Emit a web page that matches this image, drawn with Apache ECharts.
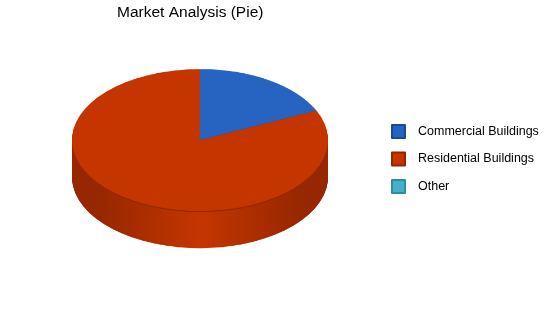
<!DOCTYPE html>
<html>
<head>
<meta charset="utf-8">
<script src="https://cdn.jsdelivr.net/npm/echarts@6/dist/echarts.min.js"></script>
<style>
html,body{margin:0;padding:0;background:#fff;}
#wrap{position:relative;width:550px;height:318px;overflow:hidden;background:#fff;}
#pie{position:absolute;left:0;top:0;width:550px;height:574px;transform:scaleY(0.5547);transform-origin:0 0;}
#front{position:absolute;left:0;top:0;width:550px;height:318px;}
</style>
</head>
<body>
<div id="wrap"><div id="pie"></div><div id="front"></div></div>
<script>
// ---- data ----
const categories = ['Commercial Buildings', 'Residential Buildings', 'Other'];
const shares = [18.2, 81.8, 0];
const titleText = 'Market Analysis (Pie)';
// ---- styles ----
const topColors = ['#2763c0', '#c43500', '#46b0c6'];
const borderColors = ['#1b4a94', '#8f2700', '#2f8ea3'];
const sideDark = ['#1a4690', '#962700', '#2f8496'];
const sideLight = ['#2459b0', '#c43600', '#3fa2b6'];
const edgeLine = ['#163c7a', '#942800', '#2a7a8a'];

const SCALE_Y = 0.5547;
const CX = 200, CY = 140 / SCALE_Y, R = 128;
const DEPTH = Math.round(37 / SCALE_Y);

function sideColor(i) {
  return {
    type: 'linear', x: 0, y: 0, x2: 1, y2: 0,
    colorStops: [
      { offset: 0, color: sideDark[i] },
      { offset: 0.1, color: sideDark[i] },
      { offset: 0.5, color: sideLight[i] },
      { offset: 0.9, color: sideDark[i] },
      { offset: 1, color: sideDark[i] }
    ]
  };
}

function pieLayer(offset, colorFn) {
  return {
    type: 'pie',
    center: [CX, CY + offset],
    radius: R,
    startAngle: 90,
    clockwise: true,
    silent: true,
    animation: false,
    label: { show: false },
    labelLine: { show: false },
    emphasis: { disabled: true },
    data: categories.map((name, i) => ({
      name: name,
      value: shares[i],
      itemStyle: { color: colorFn(i), borderWidth: 0 }
    }))
  };
}

const pieSeries = [];
for (let d = DEPTH; d >= 3; d--) pieSeries.push(pieLayer(d, sideColor));
pieSeries.push(pieLayer(2, i => edgeLine[i]));
pieSeries.push(pieLayer(0, i => topColors[i]));

const pieChart = echarts.init(document.getElementById('pie'), null, { renderer: 'canvas' });
pieChart.setOption({ animation: false, series: pieSeries });

const front = echarts.init(document.getElementById('front'), null, { renderer: 'canvas' });
front.setOption({
  animation: false,
  title: {
    text: titleText,
    left: 117, top: 5, padding: 0,
    textStyle: { fontFamily: 'Liberation Sans, Arial, sans-serif', fontSize: 15.5, fontWeight: 'normal', color: '#000' }
  },
  legend: {
    orient: 'vertical',
    left: 391, top: 124, padding: 0,
    itemWidth: 13, itemHeight: 13, itemGap: 12.5,
    icon: 'rect',
    selectedMode: false,
    data: categories,
    textStyle: { fontFamily: 'Liberation Sans, Arial, sans-serif', fontSize: 12.5, color: '#000', padding: [0, 0, 0, 8] }
  },
  series: [{
    type: 'pie',
    radius: 0,
    center: [CX, 140],
    silent: true,
    label: { show: false },
    labelLine: { show: false },
    data: categories.map((name, i) => ({
      name: name,
      value: shares[i],
      itemStyle: { color: topColors[i], borderColor: borderColors[i], borderWidth: 1 }
    }))
  }]
});
</script>
</body>
</html>
